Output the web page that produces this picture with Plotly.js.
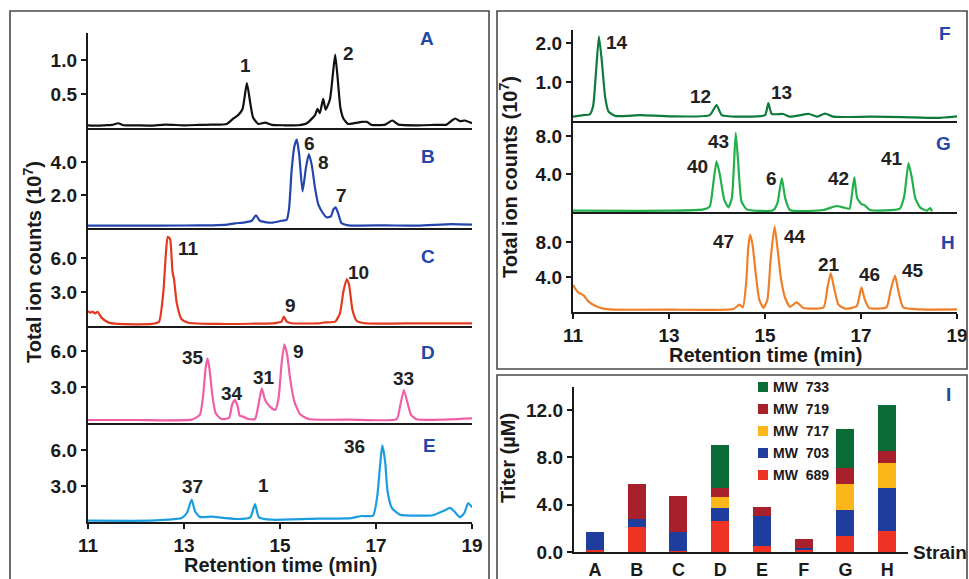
<!DOCTYPE html>
<html><head><meta charset="utf-8">
<script src="https://cdn.plot.ly/plotly-3.0.1.min.js"></script>
<style>html,body{margin:0;padding:0;background:#fff}#chart{width:969px;height:579px}</style>
</head><body><div id="chart"></div>
<script>
// ---------- DATA ----------
// Panel A (strain A) retention time (min) / total ion counts (1e7)
const tA = [11.00,11.20,11.35,11.50,11.63,11.74,12.00,12.33,12.60,13.02,13.30,13.58,13.89,14.03,14.13,14.22,14.31,14.38,14.44,14.55,14.69,14.83,15.10,15.38,15.56,15.73,15.78,15.83,15.90,15.95,16.04,16.10,16.15,16.20,16.26,16.32,16.42,16.70,16.81,16.91,17.19,17.34,17.47,17.88,18.20,18.47,18.58,18.65,18.75,18.85,19.00];
const yA = [0.04,0.035,0.04,0.045,0.07,0.04,0.04,0.035,0.05,0.04,0.045,0.05,0.06,0.14,0.19,0.28,0.66,0.37,0.15,0.06,0.08,0.045,0.04,0.04,0.07,0.19,0.28,0.22,0.43,0.27,0.42,0.78,1.08,0.74,0.29,0.14,0.06,0.09,0.09,0.045,0.05,0.11,0.05,0.04,0.045,0.05,0.11,0.14,0.10,0.11,0.07];
// Panel B
const tB = [11.00,12.00,13.00,13.60,13.90,14.06,14.27,14.41,14.50,14.58,14.69,14.83,15.03,15.14,15.19,15.24,15.30,15.35,15.40,15.47,15.54,15.60,15.66,15.73,15.80,15.88,15.97,16.06,16.11,16.16,16.22,16.28,16.42,17.19,17.88,18.58,19.00];
const yB = [0.14,0.14,0.15,0.16,0.20,0.28,0.34,0.44,0.77,0.44,0.36,0.32,0.44,0.50,1.20,3.40,4.95,5.35,4.44,2.22,3.64,4.48,3.84,2.42,1.41,0.97,0.65,0.70,1.11,1.25,0.81,0.30,0.16,0.16,0.14,0.24,0.20];
// Panel C
const tC = [11.00,11.04,11.09,11.15,11.20,11.28,11.42,11.63,12.33,12.48,12.57,12.62,12.66,12.71,12.76,12.79,12.85,12.95,13.09,13.72,14.41,14.90,15.03,15.08,15.14,15.24,15.80,15.94,16.15,16.25,16.32,16.39,16.44,16.51,16.60,16.77,17.88,19.00];
const yC = [1.32,1.18,1.26,1.12,1.26,0.74,0.32,0.18,0.18,0.38,3.03,6.26,7.88,7.68,4.79,4.20,2.00,0.59,0.29,0.18,0.20,0.26,0.38,0.82,0.38,0.24,0.24,0.32,0.38,1.12,3.03,4.15,3.62,1.41,0.44,0.24,0.24,0.24];
// Panel D
const tD = [11.00,12.00,13.16,13.33,13.40,13.45,13.49,13.53,13.59,13.66,13.78,13.94,14.00,14.06,14.12,14.16,14.23,14.34,14.48,14.55,14.62,14.69,14.79,14.90,14.97,15.03,15.09,15.15,15.21,15.30,15.42,15.60,16.49,17.43,17.50,17.58,17.65,17.73,17.85,19.00];
const yD = [0.25,0.25,0.28,0.67,2.33,4.56,5.39,4.56,2.33,0.81,0.33,0.44,1.50,1.92,1.36,0.61,0.53,0.33,0.33,1.50,2.89,1.92,1.36,1.08,2.06,4.83,6.56,5.67,3.72,1.78,0.72,0.33,0.28,0.33,1.36,2.75,1.78,0.67,0.31,0.39];
// Panel E
const tE = [11.00,12.30,12.67,12.95,13.06,13.16,13.23,13.33,13.58,13.85,14.13,14.38,14.48,14.56,14.83,15.80,16.49,16.70,16.94,17.03,17.08,17.13,17.19,17.24,17.33,17.50,17.88,18.19,18.30,18.44,18.54,18.63,18.75,18.84,18.92,19.00];
const yE = [0.11,0.11,0.19,0.33,0.75,1.86,0.89,0.42,0.44,0.33,0.25,0.39,1.50,0.39,0.19,0.28,0.33,0.50,0.53,2.28,4.50,6.39,5.06,2.56,1.17,0.61,0.53,0.56,0.75,0.97,1.17,0.89,0.39,0.75,1.58,1.22];
// Panel F
const tF = [11.00,11.22,11.35,11.42,11.48,11.54,11.60,11.67,11.74,11.88,12.40,13.02,13.85,13.99,14.10,14.55,15.00,15.07,15.14,15.38,15.52,15.92,16.08,16.25,16.42,17.19,17.88,18.58,19.00];
const yF = [0.11,0.15,0.17,0.39,1.27,2.17,1.54,0.61,0.24,0.13,0.15,0.12,0.15,0.41,0.15,0.11,0.15,0.46,0.18,0.18,0.11,0.18,0.11,0.19,0.11,0.11,0.10,0.08,0.12];
// Panel G
const tG = [11.00,13.02,13.72,13.85,13.92,13.99,14.06,14.15,14.24,14.31,14.35,14.39,14.44,14.51,14.62,15.17,15.26,15.35,15.42,15.52,16.22,16.49,16.63,16.76,16.81,16.86,16.92,17.01,17.08,17.19,17.81,17.90,17.99,18.06,18.13,18.23,18.37,18.44,18.48];
const yG = [0.14,0.14,0.28,0.60,2.88,5.33,3.93,1.30,0.49,1.47,4.63,8.32,5.33,1.12,0.28,0.18,0.95,3.58,1.47,0.21,0.21,0.63,0.49,0.35,1.82,3.65,1.47,0.84,0.70,0.21,0.35,1.65,5.16,3.58,1.47,0.49,0.14,0.42,0.07];
// Panel H
const tH = [11.00,11.06,11.13,11.22,11.32,11.46,11.63,11.84,13.02,14.34,14.47,14.54,14.61,14.65,14.69,14.74,14.81,14.88,14.97,15.05,15.12,15.20,15.26,15.33,15.42,15.52,15.66,15.80,16.22,16.30,16.37,16.44,16.53,16.67,16.91,17.01,17.08,17.17,17.53,17.62,17.71,17.78,17.88,18.23,19.00];
const yH = [3.12,2.55,2.17,1.90,1.22,0.72,0.38,0.27,0.27,0.34,0.84,0.53,3.50,7.31,8.84,7.70,4.27,1.41,0.46,1.41,6.17,9.79,7.31,3.89,1.60,0.61,1.10,0.46,0.53,2.74,4.46,2.74,0.84,0.38,0.65,2.82,1.41,0.46,0.53,2.55,4.15,2.36,0.53,0.30,0.30];

// Peak labels per panel
const labelsA = ['1','2'];
const labelsB = ['6','8','7'];
const labelsC = ['11','9','10'];
const labelsD = ['35','34','31','9','33'];
const labelsE = ['37','1','36'];
const labelsF = ['14','12','13'];
const labelsG = ['40','43','6','42','41'];
const labelsH = ['47','44','21','46','45'];
const panelLetters = ['A','B','C','D','E','F','G','H','I'];

// Panel I: titer (uM) by strain, stacked by MW
const strains = ['A','B','C','D','E','F','G','H'];
const seriesNames = ['MW\u00a0\u00a0689','MW\u00a0\u00a0703','MW\u00a0\u00a0717','MW\u00a0\u00a0719','MW\u00a0\u00a0733'];
const mw689 = [0.20,2.13,0.05,2.61,0.54,0.14,1.39,1.76];
const mw703 = [1.45,0.65,1.62,1.08,2.52,0.17,2.13,3.66];
const mw717 = [0.00,0.00,0.00,0.96,0.00,0.00,2.21,2.07];
const mw719 = [0.00,3.00,3.10,0.77,0.77,0.80,1.39,1.08];
const mw733 = [0.00,0.00,0.00,3.60,0.00,0.00,3.29,3.86];

const xTicks = [11,13,15,17,19];
const yTicksA = [0.5,1.0], yTicksB = [2.0,4.0], yTicksC = [3.0,6.0], yTicksD = [3.0,6.0], yTicksE = [3.0,6.0];
const yTicksF = [1.0,2.0], yTicksG = [4.0,8.0], yTicksH = [4.0,8.0], yTicksI = [0.0,4.0,8.0,12.0];

// ---------- LAYOUT HELPERS ----------
const W = 969, H = 579;
const px = v => v / W;
const py = v => 1 - v / H;
const dom = (top, bot) => [1 - bot / H, 1 - top / H];
const FONT = 'Liberation Sans, Arial, Helvetica, sans-serif';
const INK = '#1a1a1a';
const LETTER = '#2446a6';
const LEFT = [88 / W, 472 / W], RIGHT = [573 / W, 957 / W];

const panels = [
  {t: tA, y: yA, color: '#111111', xd: LEFT,  yd: dom(33,128),  range: [0,1.397], ticks: yTicksA, bottom: false},
  {t: tB, y: yB, color: '#2345ad', xd: LEFT,  yd: dom(128,228), range: [0,6.06],  ticks: yTicksB, bottom: false},
  {t: tC, y: yC, color: '#e2391f', xd: LEFT,  yd: dom(228,326), range: [0,8.65],  ticks: yTicksC, bottom: false},
  {t: tD, y: yD, color: '#f05fa6', xd: LEFT,  yd: dom(326,423), range: [0,8.08],  ticks: yTicksD, bottom: false},
  {t: tE, y: yE, color: '#1c9de0', xd: LEFT,  yd: dom(423,522), range: [0,8.25],  ticks: yTicksE, bottom: true},
  {t: tF, y: yF, color: '#0e7a3c', xd: RIGHT, yd: dom(30,121),  range: [0,2.33],  ticks: yTicksF, bottom: false},
  {t: tG, y: yG, color: '#22b04b', xd: RIGHT, yd: dom(121,212), range: [0,9.58],  ticks: yTicksG, bottom: false},
  {t: tH, y: yH, color: '#f07f2a', xd: RIGHT, yd: dom(212,312), range: [0,11.43], ticks: yTicksH, bottom: true}
];

const aid = (p, i) => i === 1 ? p : p + i;
const tickFont = {family: FONT, size: 19, color: INK, weight: 'bold'};

const data = [];
const layout = {
  width: W, height: H,
  margin: {l: 0, r: 0, t: 0, b: 0},
  paper_bgcolor: '#ffffff', plot_bgcolor: 'rgba(0,0,0,0)',
  showlegend: false,
  font: {family: FONT, color: INK},
  shapes: [], annotations: []
};

panels.forEach((p, k) => {
  const i = k + 1;
  data.push({type: 'scatter', mode: 'lines', x: p.t, y: p.y,
    xaxis: aid('x', i), yaxis: aid('y', i), hoverinfo: 'skip',
    line: {color: p.color, width: 2.2, shape: 'spline', smoothing: 0.5}});
  const xa = {
    domain: p.xd, range: [11, 19], anchor: aid('y', i),
    showline: true, linecolor: INK, linewidth: 2.2, showgrid: false, zeroline: false,
    showticklabels: p.bottom, fixedrange: true
  };
  if (p.bottom) {
    Object.assign(xa, {ticks: 'outside', tickvals: xTicks, ticktext: xTicks.map(String),
      ticklen: 5, tickwidth: 2, tickcolor: INK, tickfont: tickFont});
  } else {
    Object.assign(xa, {ticks: '', tickvals: xTicks});
  }
  layout['xaxis' + (i === 1 ? '' : i)] = xa;
  layout['yaxis' + (i === 1 ? '' : i)] = {
    domain: p.yd, range: p.range, anchor: aid('x', i),
    showline: true, linecolor: INK, linewidth: 2.2, showgrid: false, zeroline: false,
    ticks: 'outside', tickvals: p.ticks, ticktext: p.ticks.map(v => v.toFixed(1)),
    ticklen: 5, tickwidth: 2, tickcolor: INK, tickfont: tickFont, fixedrange: true
  };
});

// bar chart (panel I)
const barColors = ['#ee3224', '#1e3d9c', '#fbb61a', '#a8202c', '#0b6b36'];
[mw689, mw703, mw717, mw719, mw733].forEach((vals, j) => {
  data.push({type: 'bar', x: strains, y: vals, name: seriesNames[j], xaxis: 'x9', yaxis: 'y9',
    marker: {color: barColors[j], line: {width: 0}}, hoverinfo: 'skip'});
});
layout.barmode = 'stack';
layout.bargap = 0.57;
layout.xaxis9 = {domain: [574 / W, 908 / W], range: [-0.5, 7.5], anchor: 'y9', type: 'category',
  showline: true, linecolor: INK, linewidth: 2.2, ticks: '', showgrid: false, zeroline: false,
  tickfont: {family: FONT, size: 18, color: INK, weight: 'bold'}, ticklabelstandoff: 0, fixedrange: true};
layout.yaxis9 = {domain: dom(387, 552), range: [0, 13.95], anchor: 'x9',
  showline: true, linecolor: INK, linewidth: 2.2, showgrid: false, zeroline: false,
  ticks: 'outside', tickvals: yTicksI, ticktext: yTicksI.map(v => v.toFixed(1)),
  ticklen: 5, tickwidth: 2, tickcolor: INK, tickfont: tickFont, fixedrange: true};

// custom legend for panel I (top item = MW 733)
const legRows = [387, 409, 431, 453, 475];
[4, 3, 2, 1, 0].forEach((j, r) => {
  const yc = legRows[r];
  layout.shapes.push({type: 'rect', xref: 'paper', yref: 'paper',
    x0: px(758), x1: px(768), y0: py(yc + 5), y1: py(yc - 5), fillcolor: barColors[j], line: {width: 0}});
  layout.annotations.push({xref: 'paper', yref: 'paper', x: px(771), y: py(yc), xanchor: 'left', yanchor: 'middle',
    text: seriesNames[j], showarrow: false, font: {family: FONT, size: 14, color: INK, weight: 'bold'}});
});

// panel frames
const frame = (x0, y0, x1, y1) => ({type: 'rect', xref: 'paper', yref: 'paper',
  x0: px(x0), x1: px(x1), y0: py(y1), y1: py(y0), line: {color: '#4a4a4a', width: 1.6}, fillcolor: 'rgba(0,0,0,0)'});
layout.shapes.push(frame(10, 11, 489, 600), frame(497, 11, 967, 369), frame(497, 375, 967, 600));

// text helper
const txt = (s, x, y, size, color, extra) => Object.assign({xref: 'paper', yref: 'paper', x: px(x), y: py(y),
  xanchor: 'center', yanchor: 'middle', text: s, showarrow: false,
  font: {family: FONT, size: size, color: color, weight: 'bold'}}, extra || {});

// peak labels (positions in pixels)
const peakPos = [
  [labelsA, [[245,65],[348,53]]],
  [labelsB, [[309,143],[323,163],[341,196]]],
  [labelsC, [[188,248],[290,305],[358,272]]],
  [labelsD, [[193,357],[232,393],[264,377],[298,351],[403,378]]],
  [labelsE, [[192,486],[263,485],[354,446]]],
  [labelsF, [[617,42],[700,96],[781,92]]],
  [labelsG, [[697,166],[718,141],[771,178],[838,178],[892,158]]],
  [labelsH, [[723,241],[795,236],[829,264],[869,274],[913,270]]]
];
peakPos.forEach(([labs, pos]) => labs.forEach((s, i) =>
  layout.annotations.push(txt(s, pos[i][0], pos[i][1], 19, '#222222'))));

// panel letters
const letterPos = [[427,38],[428,156],[428,257],[428,352],[429,445],[945,34],[943,143],[948,242],[948,394]];
panelLetters.forEach((s, i) => layout.annotations.push(txt(s, letterPos[i][0], letterPos[i][1], 19, LETTER)));

// axis titles
layout.annotations.push(txt('Total ion counts (10<sup>7</sup>)', 32, 262, 20, INK, {textangle: -90}));
layout.annotations.push(txt('Total ion counts (10<sup>7</sup>)', 508, 177, 20, INK, {textangle: -90}));
layout.annotations.push(txt('Titer (µM)', 508, 458, 20, INK, {textangle: -90}));
layout.annotations.push(txt('Retention time (min)', 280, 565, 20, INK));
layout.annotations.push(txt('Retention time (min)', 765, 355, 20, INK));
layout.annotations.push(txt('Strain', 911, 552, 19, INK, {xanchor: 'left'}));

Plotly.newPlot('chart', data, layout, {displayModeBar: false, staticPlot: true});
</script>
</body></html>
